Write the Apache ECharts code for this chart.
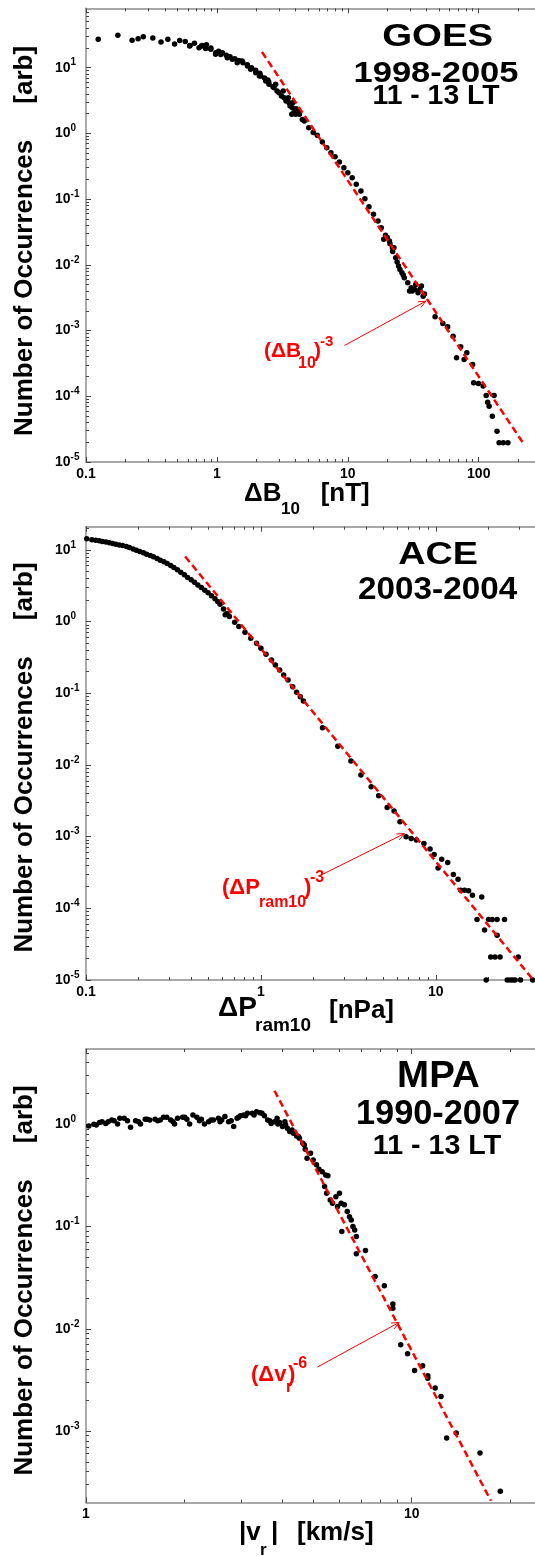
<!DOCTYPE html>
<html><head><meta charset="utf-8">
<script src="https://cdn.jsdelivr.net/npm/echarts@6/dist/echarts.min.js"></script>
<style>html,body{margin:0;padding:0;background:#fff}#c{width:535px;height:1556px}</style>
</head><body><div id="c"></div>
<script>
// ---------- data ----------
const goesPts = [[0.124,27.0],[0.175,31.0],[0.225,26.1],[0.250,27.6],[0.274,29.6],[0.324,28.3],[0.374,24.6],[0.422,27.0],[0.475,22.9],[0.520,25.8],[0.573,24.9],[0.619,21.4],[0.673,23.5],[0.760,21.4],[0.832,22.4],[0.899,19.9],[0.977,16.0],[1.03,17.7],[1.10,16.9],[1.18,15.4],[1.26,14.7],[1.37,13.7],[1.47,12.9],[1.58,11.9],[1.71,11.1],[1.84,10.0],[1.98,9.1],[2.13,8.2],[2.31,6.97],[2.49,6.05],[2.68,5.14],[2.88,4.42],[3.11,3.71],[3.37,3.11],[3.62,2.61],[3.88,2.07],[4.27,1.95],[4.65,1.54],[5.03,1.22],[5.44,1.03],[5.84,0.933],[6.39,0.739],[6.91,0.606],[7.43,0.508],[7.99,0.441],[8.63,0.366],[9.33,0.301],[10.0,0.252],[10.8,0.212],[11.6,0.168],[12.6,0.133],[13.5,0.101],[14.5,0.0766],[15.7,0.0586],[17.0,0.0464],[18.0,0.0367],[19.4,0.0281],[20.8,0.0230],[22.5,0.0182],[18.8,0.0244],[21.9,0.0182],[23.2,0.0128],[24.4,0.00957],[25.9,0.00758],[27.0,0.00637],[28.7,0.00533],[30.5,0.00448],[29.6,0.00399],[32.4,0.00423],[34.4,0.00376],[36.5,0.00475],[37.6,0.00334],[46.4,0.00162],[53.2,0.00128],[57.9,0.00114],[63.7,0.000822],[72.8,0.000566],[67.7,0.000385],[81.1,0.000459],[77.3,0.000363],[89.8,0.000305],[91.4,0.000160],[99.5,0.000157],[108,0.000143],[114,0.000103],[131,0.000103],[117,8.1e-5],[120,7.06e-5],[127,4.98e-5],[138,2.94e-5],[143,1.96e-5],[154,1.96e-5],[167,1.96e-5],[2.11,7.47],[2.45,6.49],[2.81,5.57],[3.21,4.42],[3.51,3.49],[3.79,2.93],[4.03,2.38],[3.73,1.95],[20.0,0.026],[21.0,0.021],[22.0,0.016],[23.8,0.011],[25.0,0.0085],[26.5,0.0070],[33.0,0.0050],[35.5,0.0042],[38.5,0.0036],[31.0,0.0040],
  [0.98,16.9],[1.07,15.9],[1.20,14.2],[1.31,13.4],[1.43,11.9],[1.56,12.6],[1.71,10.6],[1.81,9.42],[1.98,8.39],[2.16,7.45],[2.36,6.25],[2.50,5.57],[2.73,4.96],[2.98,4.16],[3.26,3.49],[3.56,2.93],[3.77,2.46],[4.00,1.95],[4.24,2.07],[4.49,1.63],[0.730,20.1],[0.82,19.5],[0.898,19.0],[0.622,21.8],[0.774,21.8]];

const acePts = [[0.101,14.3],[0.108,13.8],[0.1135,13.6],[0.119,13.4],[0.124,13.1],[0.130,12.8],[0.136,12.5],[0.142,12.2],[0.148,12.0],[0.155,11.7],[0.162,11.5],[0.170,11.1],[0.177,10.8],[0.186,10.3],[0.194,9.87],[0.203,9.47],[0.213,9.07],[0.222,8.69],[0.233,8.32],[0.243,7.98],[0.255,7.56],[0.266,7.16],[0.279,6.80],[0.291,6.44],[0.305,6.03],[0.318,5.66],[0.333,5.26],[0.348,4.87],[0.365,4.48],[0.381,4.10],[0.399,3.81],[0.417,3.53],[0.436,3.24],[0.456,2.98],[0.478,2.73],[0.499,2.51],[0.522,2.28],[0.546,2.07],[0.566,1.90],[0.584,1.74],[0.611,1.50],[0.640,1.29],[0.660,1.17],[0.625,1.24],[0.708,0.975],[0.748,0.849],[0.811,0.707],[0.875,0.583],[0.944,0.497],[1.00,0.423],[1.07,0.348],[1.15,0.291],[1.21,0.248],[1.28,0.211],[1.35,0.180],[1.43,0.153],[1.52,0.123],[1.60,0.103],[1.68,0.0895],[1.75,0.0780],[2.25,0.0330],[2.75,0.0182],[3.27,0.0113],[3.73,0.00721],[4.27,0.00495],[4.71,0.00371],[5.27,0.00255],[5.77,0.00227],[6.24,0.00161],[6.76,0.000993],[7.23,0.000940],[7.74,0.000893],[8.55,0.000802],[9.27,0.000669],[9.78,0.000562],[10.8,0.000485],[10.3,0.000366],[11.7,0.000434],[12.6,0.000296],[13.4,0.000255],[13.9,0.000179],[14.6,0.000179],[15.4,0.000175],[16.2,0.000152],[18.3,0.000144],[17.2,7.0e-5],[20.0,7.0e-5],[21.0,7.0e-5],[22.4,7.0e-5],[24.7,7.0e-5],[19.0,5.0e-5],[22.4,4.2e-5],[20.6,2.1e-5],[21.8,2.1e-5],[23.3,2.1e-5],[29.6,2.1e-5],[19.4,1.0e-5],[25.6,1.0e-5],[26.6,1.0e-5],[27.5,1.0e-5],[28.4,1.0e-5],[30.5,1.0e-5],[35.8,1.0e-5]];

const mpaPts = [[1.02,0.963],[1.075,0.985],[1.12,1.06],[1.17,1.06],[1.22,1.086],[1.25,1.008],[1.27,1.144],[1.31,1.144],[1.37,0.935],[1.42,1.086],[1.47,1.008],[1.52,1.12],[1.57,1.10],[1.63,1.12],[1.69,1.10],[1.73,1.17],[1.77,1.17],[1.82,1.10],[1.87,1.008],[1.91,1.144],[1.98,1.17],[2.04,1.12],[2.08,1.008],[2.13,1.23],[2.19,1.17],[2.26,1.12],[2.31,1.008],[2.38,1.06],[2.46,1.10],[2.55,1.144],[2.61,1.10],[2.67,1.19],[2.74,1.06],[2.84,0.949],[2.91,1.144],[2.98,1.21],[3.05,1.23],[3.13,1.28],[3.24,1.28],[3.34,1.33],[3.42,1.30],[3.53,1.21],[3.61,1.10],[3.70,1.02],[3.79,1.06],[3.86,1.144],[3.93,1.04],[4.01,0.949],[4.08,1.06],[4.15,0.914],[4.22,0.848],[4.33,0.817],[4.43,0.769],[4.52,0.730],[4.63,0.652],[4.71,0.570],[4.77,0.465],[4.89,0.521],[4.98,0.448],[5.10,0.401],[5.19,0.363],[5.31,0.344],[5.44,0.320],[5.53,0.313],[5.40,0.246],[5.48,0.212],[5.62,0.182],[5.71,0.169],[5.85,0.196],[6.00,0.212],[5.92,0.157],[6.07,0.169],[6.21,0.163],[6.34,0.140],[6.44,0.125],[6.52,0.116],[6.60,0.100],[6.68,0.0927],[6.76,0.0798],[6.10,0.0893],[6.76,0.0541],[7.21,0.0583],[7.72,0.0325],[8.24,0.0263],[8.75,0.0175],[8.75,0.0159],[9.25,0.00697],[9.71,0.00570],[10.2,0.00391],[10.8,0.00435],[11.2,0.00347],[11.2,0.00329],[11.8,0.00263],[12.3,0.00218],[12.8,0.000853],[13.7,0.000955],[16.2,0.000609],[18.7,0.000257],
  [1.057,1.00],[1.10,1.04],[1.15,1.02],[1.20,1.10],[1.34,1.086],[1.45,1.06],[1.54,1.12],[1.66,1.086],[1.85,1.06],[2.01,1.17],[2.23,1.086],[2.42,1.10],[2.58,1.06],[2.79,1.086],[2.94,1.17],[3.09,1.21],[3.28,1.23],[3.47,1.28],[3.66,1.086],[3.88,1.008],[4.10,0.985],[4.29,0.88],[4.49,0.758],[4.68,0.628]];

const goesFit = [[2.21,17.3],[224,1.8e-5]];
const aceFit  = [[0.369,8.06],[35.6,1.04e-5]];
const mpaFit  = [[3.79,2.13],[17.5,2.08e-4]];

const goesXTicks = [0.1,1,10,100];
const goesYTicks = [1e-5,1e-4,1e-3,1e-2,1e-1,1,10];
const aceXTicks  = [0.1,1,10];
const aceYTicks  = [1e-5,1e-4,1e-3,1e-2,1e-1,1,10];
const mpaXTicks  = [1,10];
const mpaYTicks  = [1e-3,1e-2,1e-1,1];

// ---------- layout / style ----------
const FONT = '"Liberation Sans", Arial, Helvetica, sans-serif';
const RED = '#ff0000';
const panels = [
  {pts:goesPts, fit:goesFit, xt:goesXTicks, yt:goesYTicks, top:8.3,  h:453.7, xr:[0.1,269],  yr:[1e-5,80],
   arrow:[9.44,5.93e-4,39.4,0.0028]},
  {pts:acePts,  fit:aceFit,  xt:aceXTicks,  yt:aceYTicks,  top:526.7, h:453.3, xr:[0.1,36.9], yr:[1e-5,21],
   arrow:[2.20,2.9e-4,6.61,0.0011]},
  {pts:mpaPts,  fit:mpaFit,  xt:mpaXTicks,  yt:mpaYTicks,  top:1049, h:453.5, xr:[1,23.9],   yr:[2.0e-4,5.45],
   arrow:[5.13,0.00422,9.14,0.01153]}
];

function minors(lo, hi) {
  const out = [];
  for (let e = Math.floor(Math.log10(lo)) - 1; e <= Math.ceil(Math.log10(hi)); e++) {
    for (let m = 2; m <= 9; m++) {
      const v = +(m * Math.pow(10, e)).toPrecision(3);
      if (v > lo && v < hi) out.push(v);
    }
  }
  return out;
}
function fmtX(v) { return v >= 1 ? String(Math.round(v)) : String(+v.toPrecision(1)); }
function fmtY(v) { return '{b|10}{s|' + Math.round(Math.log10(v)) + '}'; }

const tickLine = {color:'#444', width:1};
const axisLineStyle = {color:'#8c8c8c', width:1.5};
const grids = [], xAxes = [], yAxes = [], series = [];

panels.forEach((p, g) => {
  grids.push({left:86, top:p.top, width:449, height:p.h, containLabel:false});
  const xc = {type:'log', logBase:10, gridIndex:g, min:p.xr[0], max:p.xr[1], splitLine:{show:false}};
  const xMin = minors(p.xr[0], p.xr[1]);
  xAxes.push(
    Object.assign({}, xc, {position:'bottom', axisLine:{show:true, onZero:false, lineStyle:axisLineStyle},
      axisTick:{show:true, inside:true, length:5, customValues:p.xt, lineStyle:tickLine},
      axisLabel:{show:true, customValues:p.xt, formatter:fmtX, margin:5, fontSize:14, fontWeight:'bold', color:'#000', fontFamily:FONT}}),
    Object.assign({}, xc, {position:'bottom', axisLine:{show:false, onZero:false},
      axisTick:{show:true, inside:true, length:3, customValues:xMin, lineStyle:tickLine}, axisLabel:{show:false}}),
    Object.assign({}, xc, {position:'top', axisLine:{show:true, onZero:false, lineStyle:axisLineStyle},
      axisTick:{show:true, inside:true, length:5, customValues:p.xt, lineStyle:tickLine}, axisLabel:{show:false}}),
    Object.assign({}, xc, {position:'top', axisLine:{show:false, onZero:false},
      axisTick:{show:true, inside:true, length:3, customValues:xMin, lineStyle:tickLine}, axisLabel:{show:false}})
  );
  const yc = {type:'log', logBase:10, gridIndex:g, min:p.yr[0], max:p.yr[1], splitLine:{show:false}, position:'left'};
  yAxes.push(
    Object.assign({}, yc, {axisLine:{show:true, onZero:false, lineStyle:axisLineStyle},
      axisTick:{show:true, inside:true, length:5, customValues:p.yt, lineStyle:tickLine},
      axisLabel:{show:true, customValues:p.yt, formatter:fmtY, margin:31, align:'left', color:'#000',
        rich:{b:{fontSize:14, fontWeight:'bold', fontFamily:FONT, color:'#000', lineHeight:20},
              s:{fontSize:10, fontWeight:'bold', fontFamily:FONT, color:'#000', lineHeight:10, verticalAlign:'top'}}}}),
    Object.assign({}, yc, {axisLine:{show:false, onZero:false},
      axisTick:{show:true, inside:true, length:3, customValues:minors(p.yr[0], p.yr[1]), lineStyle:tickLine}, axisLabel:{show:false}})
  );
  series.push(
    {type:'scatter', xAxisIndex:g*4, yAxisIndex:g*2, data:p.pts, symbol:'circle', symbolSize:5.5,
     itemStyle:{color:'#000', opacity:1}, z:2, silent:true},
    {type:'line', xAxisIndex:g*4, yAxisIndex:g*2, data:p.fit, symbol:'none', z:3, silent:true,
     lineStyle:{color:RED, width:2.5, type:[7,4], opacity:1}},
    {type:'custom', xAxisIndex:g*4, yAxisIndex:g*2, data:[p.arrow], z:4, silent:true,
     encode:{x:[0,2], y:[1,3]},
     renderItem:function(params, api){
       const a = api.coord([api.value(0), api.value(1)]);
       const b = api.coord([api.value(2), api.value(3)]);
       const ang = Math.atan2(b[1]-a[1], b[0]-a[0]);
       const L = 8, w = 0.42;
       const h1 = [b[0]-L*Math.cos(ang-w), b[1]-L*Math.sin(ang-w)];
       const h2 = [b[0]-L*Math.cos(ang+w), b[1]-L*Math.sin(ang+w)];
       return {type:'group', children:[
         {type:'line', shape:{x1:a[0], y1:a[1], x2:b[0], y2:b[1]}, style:{stroke:RED, lineWidth:1}},
         {type:'polyline', shape:{points:[h1, b, h2]}, style:{stroke:RED, lineWidth:1, fill:null}}
       ]};
     }}
  );
});

function T(x, y, text, size, o) {
  o = o || {};
  const al = o.align || 'center';
  return {type:'text', x:x, y:y, scaleX:o.sx || 1, rotation:o.rot || 0, z:100, silent:true,
    style:{text:text, fontSize:size, fontWeight:'bold', fontFamily:FONT, fill:o.color || '#000',
      align:al, verticalAlign:'middle', textAlign:al, textVerticalAlign:'middle'}};
}
const yTitle = 'Number of Occurrences     [arb]';
const graphics = [
  // panel titles
  T(437.7, 36.7, 'GOES', 32, {sx:1.2}),
  T(436, 73.3, '1998-2005', 30, {sx:1.15}),
  T(436, 96.5, '11 - 13 LT', 27, {sx:1.05}),
  T(438, 555, 'ACE', 32, {sx:1.18}),
  T(437.6, 590, '2003-2004', 32, {sx:1.04}),
  T(438.4, 1076.7, 'MPA', 37, {sx:1.04}),
  T(438, 1114, '1990-2007', 35, {sx:0.98}),
  T(437, 1146.3, '11 - 13 LT', 27, {sx:1.06}),
  // y titles
  T(24.7, 240.9, yTitle, 26, {rot:Math.PI/2}),
  T(24.7, 757.5, yTitle, 26, {rot:Math.PI/2}),
  T(24.7, 1280.5, yTitle, 26, {rot:Math.PI/2}),
  // x titles
  T(244, 494, 'ΔB', 26, {align:'left'}),
  T(281, 509, '10', 17, {align:'left'}),
  T(320.7, 494, '[nT]', 26, {align:'left'}),
  T(218, 1008, 'ΔP', 28, {align:'left'}),
  T(255, 1026, 'ram10', 19, {align:'left'}),
  T(329, 1011, '[nPa]', 26, {align:'left'}),
  T(239, 1532.5, '|v', 26, {align:'left'}),
  T(260, 1550, 'r', 17, {align:'left'}),
  T(271, 1532.5, '|', 26, {align:'left'}),
  T(297, 1533, '[km/s]', 26, {align:'left'}),
  // annotations
  T(264, 351, '(ΔB', 21, {align:'left', color:RED}),
  T(298, 364, '10', 16, {align:'left', color:RED}),
  T(314, 351, ')', 21, {align:'left', color:RED}),
  T(320, 342, '-3', 15, {align:'left', color:RED}),
  T(222, 887.5, '(ΔP', 22, {align:'left', color:RED}),
  T(259, 902.5, 'ram10', 16, {align:'left', color:RED}),
  T(304, 887.5, ')', 22, {align:'left', color:RED}),
  T(310, 877.5, '-3', 16, {align:'left', color:RED}),
  T(251, 1375, '(Δv', 22, {align:'left', color:RED}),
  T(286, 1388, 'r', 16, {align:'left', color:RED}),
  T(288, 1375, ')', 22, {align:'left', color:RED}),
  T(293, 1364, '-6', 16, {align:'left', color:RED})
];

const chart = echarts.init(document.getElementById('c'), null, {renderer:'canvas'});
chart.setOption({
  animation:false, backgroundColor:'#fff',
  grid:grids, xAxis:xAxes, yAxis:yAxes, series:series, graphic:graphics
});
</script></body></html>
